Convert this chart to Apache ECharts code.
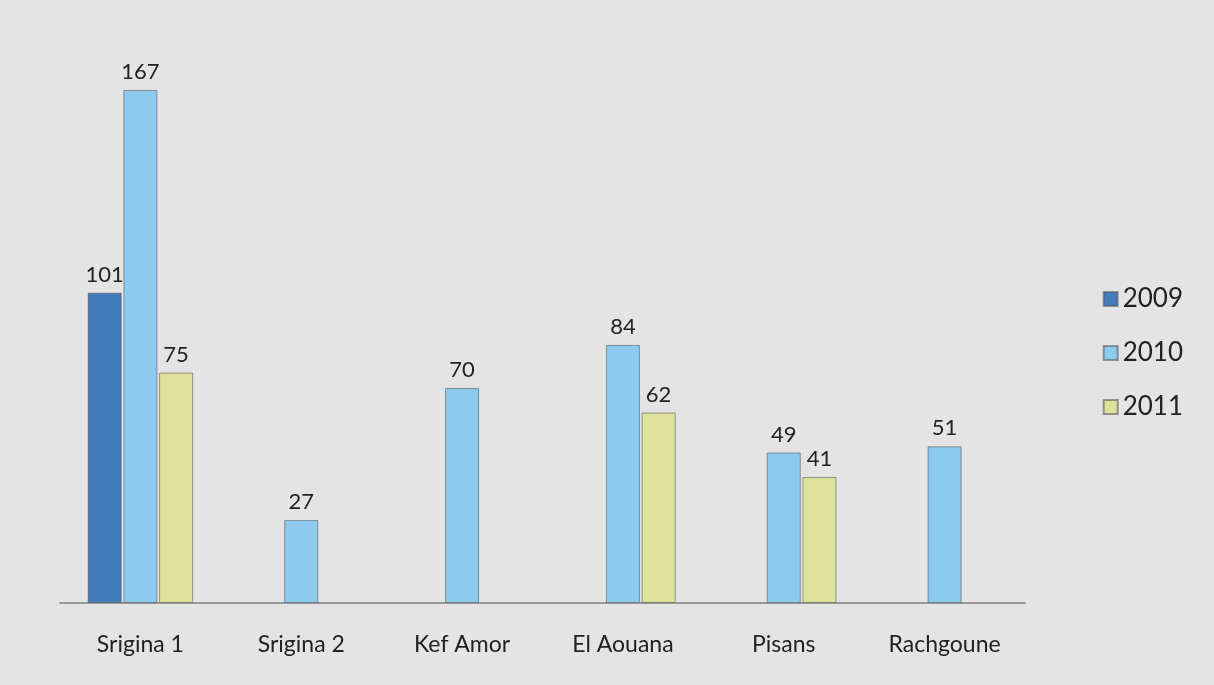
<!DOCTYPE html>
<html><head><meta charset="utf-8">
<script src="https://cdn.jsdelivr.net/npm/echarts@6/dist/echarts.min.js"></script>
<style>html,body{margin:0;padding:0;background:#e4e4e4}#c{width:1214px;height:685px}</style>
</head><body><div id="c"></div>
<script>
const categories = ['Srigina 1','Srigina 2','Kef Amor','El Aouana','Pisans','Rachgoune'];
const seriesNames = ['2009','2010','2011'];
const v2009 = [101, null, null, null, null, null];
const v2010 = [167, 27, 70, 84, 49, 51];
const v2011 = [75, null, null, 62, 41, null];
const colors = ['#437bbc','#8ccaf0','#dde39c'];
const font = 'Lato, "Open Sans", sans-serif';
const chart = echarts.init(document.getElementById('c'), null, {renderer:'canvas'});
const vals = [v2009, v2010, v2011];
chart.setOption({
  backgroundColor: '#e4e4e4',
  animation: false,
  legend: {
    orient: 'vertical', right: 26, top: 281, itemGap: 28,
    itemWidth: 14, itemHeight: 14, icon: 'rect',
    textStyle: {fontSize: 26, color: '#222', fontFamily: font},
    data: seriesNames
  },
  grid: {left: 60, right: 189, top: 50, bottom: 82},
  xAxis: {
    type: 'category', data: categories,
    axisLine: {show: true, lineStyle: {color: '#999', width: 2}},
    axisTick: {show: false},
    axisLabel: {fontSize: 23, color: '#222', fontFamily: font, margin: 30}
  },
  yAxis: {type: 'value', min: 0, max: 180, show: false, splitLine: {show: false}},
  series: seriesNames.map((n, i) => ({
    name: n, type: 'bar', data: vals[i], barWidth: 34, barGap: '5%',
    itemStyle: {color: colors[i], borderColor: 'rgba(90,90,90,0.6)', borderWidth: 1},
    label: {show: true, position: 'top', fontSize: 22, color: '#222', fontFamily: font, distance: 7}
  }))
});
</script></body></html>
